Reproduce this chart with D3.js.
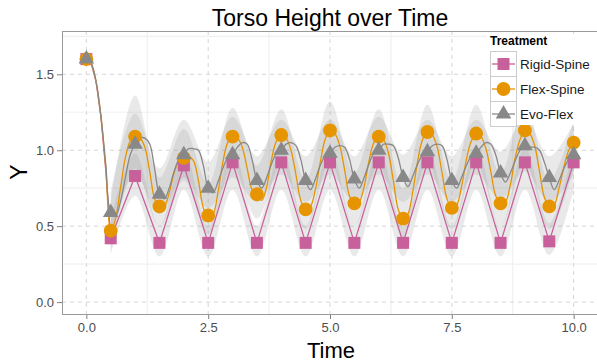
<!DOCTYPE html>
<html>
<head>
<meta charset="utf-8">
<script src="https://cdn.jsdelivr.net/npm/d3@7"></script>
<style>
  body { margin: 0; background: #fff; }
  svg { display: block; font-family: "Liberation Sans", Arial, sans-serif; }
</style>
</head>
<body>
<div id="chart"></div>
<script>
// treatments, in legend order
const treatments = ['Rigid-Spine', 'Flex-Spine', 'Evo-Flex'];

// sampled points (markers)
const pointTime = [0, 0.5, 1, 1.5, 2, 2.5, 3, 3.5, 4, 4.5, 5, 5.5, 6, 6.5, 7, 7.5, 8, 8.5, 9, 9.5, 10];
const rigidPoints = [1.60, 0.42, 0.83, 0.39, 0.90, 0.39, 0.92, 0.39, 0.92, 0.39, 0.92, 0.39, 0.92, 0.39, 0.92, 0.39, 0.92, 0.39, 0.92, 0.40, 0.92];
const flexPoints = [1.60, 0.47, 1.09, 0.63, 0.95, 0.57, 1.09, 0.71, 1.10, 0.61, 1.13, 0.65, 1.09, 0.55, 1.12, 0.62, 1.11, 0.65, 1.13, 0.63, 1.05];
const evoPoints = [1.60, 0.59, 1.04, 0.71, 0.97, 0.75, 0.97, 0.80, 1.00, 0.80, 0.98, 0.81, 1.00, 0.82, 0.99, 0.80, 0.98, 0.85, 1.03, 0.82, 0.97];

// rigid line: initial drop, then straight between samples
const rigidDropTime = [0, 0.1, 0.2, 0.3, 0.4];
const rigidDrop = [1.60, 1.57, 1.45, 1.22, 0.86];

// fine resolution lines for flex and evo
const lineTime = [
  0, 0.1, 0.2, 0.3, 0.4, 0.5, 0.6, 0.7, 0.8, 0.9,
  1, 1.1, 1.2, 1.3, 1.4, 1.5, 1.6, 1.7, 1.8, 1.9,
  2, 2.1, 2.2, 2.3, 2.4, 2.5, 2.6, 2.7, 2.8, 2.9,
  3, 3.1, 3.2, 3.3, 3.4, 3.5, 3.6, 3.7, 3.8, 3.9,
  4, 4.1, 4.2, 4.3, 4.4, 4.5, 4.6, 4.7, 4.8, 4.9,
  5, 5.1, 5.2, 5.3, 5.4, 5.5, 5.6, 5.7, 5.8, 5.9,
  6, 6.1, 6.2, 6.3, 6.4, 6.5, 6.6, 6.7, 6.8, 6.9,
  7, 7.1, 7.2, 7.3, 7.4, 7.5, 7.6, 7.7, 7.8, 7.9,
  8, 8.1, 8.2, 8.3, 8.4, 8.5, 8.6, 8.7, 8.8, 8.9,
  9, 9.1, 9.2, 9.3, 9.4, 9.5, 9.6, 9.7, 9.8, 9.9,
  10];
const flexLine = [
  1.60, 1.57, 1.45, 1.22, 0.88, 0.47, 0.55, 0.75, 0.95, 1.06,
  1.09, 1.08, 1.02, 0.86, 0.68, 0.62, 0.63, 0.72, 0.85, 0.93,
  0.95, 0.96, 0.93, 0.80, 0.62, 0.56, 0.58, 0.72, 0.92, 1.05,
  1.09, 1.08, 1.02, 0.88, 0.74, 0.70, 0.67, 0.76, 0.94, 1.06,
  1.10, 1.08, 1.00, 0.84, 0.67, 0.61, 0.63, 0.74, 0.92, 1.07,
  1.13, 1.11, 1.03, 0.87, 0.70, 0.65, 0.66, 0.76, 0.93, 1.05,
  1.09, 1.07, 0.98, 0.80, 0.61, 0.55, 0.58, 0.73, 0.93, 1.07,
  1.12, 1.10, 1.02, 0.85, 0.68, 0.62, 0.64, 0.76, 0.94, 1.06,
  1.11, 1.09, 1.01, 0.86, 0.70, 0.65, 0.66, 0.77, 0.95, 1.07,
  1.13, 1.11, 1.03, 0.86, 0.69, 0.63, 0.64, 0.75, 0.89, 1.00,
  1.05];
const evoLine = [
  1.60, 1.57, 1.45, 1.22, 0.90, 0.59, 0.57, 0.66, 0.82, 0.97,
  1.04, 1.08, 1.08, 1.04, 0.88, 0.71, 0.68, 0.75, 0.86, 0.94,
  0.97, 1.01, 1.01, 1.00, 0.90, 0.75, 0.72, 0.79, 0.88, 0.95,
  0.97, 1.02, 1.05, 1.04, 0.94, 0.80, 0.75, 0.82, 0.91, 0.98,
  1.00, 1.04, 1.05, 1.03, 0.94, 0.80, 0.74, 0.81, 0.90, 0.96,
  0.98, 1.02, 1.03, 1.02, 0.94, 0.81, 0.75, 0.82, 0.91, 0.98,
  1.00, 1.04, 1.04, 1.03, 0.95, 0.82, 0.76, 0.83, 0.91, 0.97,
  0.99, 1.03, 1.04, 1.03, 0.94, 0.80, 0.75, 0.82, 0.90, 0.96,
  0.98, 1.02, 1.05, 1.04, 0.97, 0.85, 0.79, 0.85, 0.93, 1.00,
  1.03, 1.02, 1.02, 1.00, 0.92, 0.82, 0.74, 0.80, 0.88, 0.94,
  0.97];

// spread ribbons (one per treatment)
const ribbonTime = [0.5, 1, 1.5, 2, 2.5, 3, 3.5, 4, 4.5, 5, 5.5, 6, 6.5, 7, 7.5, 8, 8.5, 9, 9.5, 10];
const rigidLo = [0.31, 0.70, 0.30, 0.74, 0.30, 0.74, 0.30, 0.74, 0.30, 0.74, 0.30, 0.74, 0.30, 0.74, 0.30, 0.74, 0.30, 0.74, 0.31, 0.74];
const rigidHi = [0.55, 0.98, 0.50, 1.00, 0.50, 1.02, 0.50, 1.02, 0.50, 1.02, 0.50, 1.02, 0.50, 1.02, 0.50, 1.02, 0.50, 1.02, 0.52, 1.02];
const flexLo = [0.33, 0.88, 0.50, 0.80, 0.45, 0.90, 0.55, 0.90, 0.48, 0.92, 0.50, 0.90, 0.42, 0.92, 0.48, 0.92, 0.50, 0.92, 0.48, 0.88];
const flexHi = [0.66, 1.36, 0.82, 1.14, 0.78, 1.28, 0.90, 1.27, 0.80, 1.32, 0.85, 1.27, 0.75, 1.30, 0.80, 1.30, 0.85, 1.32, 0.80, 1.20];
const evoLo = [0.45, 0.84, 0.58, 0.82, 0.62, 0.82, 0.66, 0.84, 0.66, 0.84, 0.66, 0.84, 0.66, 0.84, 0.66, 0.84, 0.68, 0.86, 0.66, 0.84];
const evoHi = [0.72, 1.24, 0.88, 1.20, 0.92, 1.22, 0.96, 1.20, 0.96, 1.20, 0.96, 1.22, 0.97, 1.20, 0.96, 1.20, 0.99, 1.22, 0.96, 1.18];

// axis ticks
const xTicks = [0, 2.5, 5, 7.5, 10];
const xMinor = [1.25, 3.75, 6.25, 8.75];
const yTicks = [0, 0.5, 1, 1.5];
const yMinor = [0.25, 0.75, 1.25, 1.75];

const colors = {'Rigid-Spine': '#C8609C', 'Flex-Spine': '#E69500', 'Evo-Flex': '#888888'};

// layout
const width = 597, height = 364;
const margin = {t: 31, r: -1, b: 49, l: 62};
const pw = width - margin.l - margin.r;
const ph = height - margin.t - margin.b;

const svg = d3.select('#chart').append('svg')
    .attr('width', width)
    .attr('height', height);

const x = d3.scaleLinear().domain([-0.5, 10.5]).range([margin.l, margin.l + pw]);
const y = d3.scaleLinear().domain([-0.085, 1.785]).range([margin.t + ph, margin.t]);

// grid
const grid = svg.append('g').attr('class', 'grid');
grid.selectAll('.vminor').data(xMinor).join('line')
    .attr('x1', d => x(d)).attr('x2', d => x(d))
    .attr('y1', margin.t).attr('y2', margin.t + ph)
    .attr('stroke', '#f0f0f0').attr('stroke-width', 1.2);
grid.selectAll('.hminor').data(yMinor).join('line')
    .attr('y1', d => y(d)).attr('y2', d => y(d))
    .attr('x1', margin.l).attr('x2', margin.l + pw)
    .attr('stroke', '#f0f0f0').attr('stroke-width', 1.2);
grid.selectAll('.vmajor').data(xTicks).join('line')
    .attr('x1', d => x(d)).attr('x2', d => x(d))
    .attr('y1', margin.t).attr('y2', margin.t + ph)
    .attr('stroke', '#d6d6d6').attr('stroke-dasharray', '4,4');
grid.selectAll('.hmajor').data(yTicks).join('line')
    .attr('y1', d => y(d)).attr('y2', d => y(d))
    .attr('x1', margin.l).attr('x2', margin.l + pw)
    .attr('stroke', '#d6d6d6').attr('stroke-dasharray', '4,4');

// ribbons
const ribbons = [
    {lo: rigidLo, hi: rigidHi},
    {lo: flexLo, hi: flexHi},
    {lo: evoLo, hi: evoHi}
];
const area = d3.area()
    .x((d, i) => x(ribbonTime[i]))
    .y0(d => y(d[0]))
    .y1(d => y(d[1]))
    .curve(d3.curveCatmullRom);
svg.append('g').selectAll('path').data(ribbons).join('path')
    .attr('d', r => area(r.lo.map((v, i) => [v, r.hi[i]])))
    .attr('fill', '#999')
    .attr('fill-opacity', 0.22);

// lines
const rigidLineData = rigidDropTime.map((t, i) => [t, rigidDrop[i]])
    .concat(pointTime.slice(1).map((t, i) => [t, rigidPoints[i + 1]]));
const series = [
    {name: 'Rigid-Spine', line: rigidLineData, curve: d3.curveLinear},
    {name: 'Flex-Spine', line: lineTime.map((t, i) => [t, flexLine[i]]), curve: d3.curveCatmullRom},
    {name: 'Evo-Flex', line: lineTime.map((t, i) => [t, evoLine[i]]), curve: d3.curveCatmullRom}
];
const lineGen = d3.line().x(d => x(d[0])).y(d => y(d[1]));
svg.append('g').selectAll('path').data(series).join('path')
    .attr('d', s => lineGen.curve(s.curve)(s.line))
    .attr('fill', 'none')
    .attr('stroke', s => colors[s.name])
    .attr('stroke-width', 1.3);

// markers
const sym = {
    'Rigid-Spine': d3.symbol().type(d3.symbolSquare).size(144),
    'Flex-Spine': d3.symbol().type(d3.symbolCircle).size(150),
    'Evo-Flex': d3.symbol().type(d3.symbolTriangle).size(105)
};
const pointSets = [
    {name: 'Rigid-Spine', vals: rigidPoints},
    {name: 'Flex-Spine', vals: flexPoints},
    {name: 'Evo-Flex', vals: evoPoints}
];
pointSets.forEach(s => {
    svg.append('g').selectAll('path').data(s.vals).join('path')
        .attr('transform', (d, i) => `translate(${x(pointTime[i])},${y(d)})`)
        .attr('d', sym[s.name]())
        .attr('fill', colors[s.name]);
});

// panel border
svg.append('rect')
    .attr('x', margin.l + 0.5).attr('y', margin.t + 0.5)
    .attr('width', pw).attr('height', ph - 1)
    .attr('fill', 'none')
    .attr('stroke', '#999');

// axes
const axisX = svg.append('g')
    .attr('transform', `translate(0,${margin.t + ph})`)
    .call(d3.axisBottom(x).tickValues(xTicks).tickFormat(d3.format('.1f')).tickSize(4).tickPadding(4));
const axisY = svg.append('g')
    .attr('transform', `translate(${margin.l},0)`)
    .call(d3.axisLeft(y).tickValues(yTicks).tickFormat(d3.format('.1f')).tickSize(5).tickPadding(3));
[axisX, axisY].forEach(a => {
    a.select('.domain').remove();
    a.selectAll('line').attr('stroke', '#7f7f7f');
    a.selectAll('text')
        .attr('fill', '#4d4d4d')
        .style('font-size', '13px')
        .style('font-family', '"Liberation Sans", Arial, sans-serif');
});

// titles
svg.append('text')
    .attr('x', 330).attr('y', 26)
    .attr('text-anchor', 'middle')
    .style('font-size', '23px')
    .text('Torso Height over Time');
svg.append('text')
    .attr('x', 331).attr('y', 358)
    .attr('text-anchor', 'middle')
    .style('font-size', '22px')
    .text('Time');
svg.append('text')
    .attr('transform', 'translate(27,172) rotate(-90)')
    .attr('text-anchor', 'middle')
    .style('font-size', '23px')
    .text('Y');

// legend
const legend = svg.append('g').attr('transform', 'translate(489,34)');
legend.append('rect')
    .attr('x', -2).attr('y', 0)
    .attr('width', 110).attr('height', 91)
    .attr('fill', '#fff');
legend.append('text')
    .attr('x', 1).attr('y', 11)
    .style('font-size', '12px')
    .style('font-weight', 'bold')
    .text('Treatment');
const keyH = 25;
const keys = legend.selectAll('.key').data(treatments).join('g')
    .attr('class', 'key')
    .attr('transform', (d, i) => `translate(1,${17 + i * keyH})`);
keys.append('rect')
    .attr('x', 0.5).attr('y', 0.5)
    .attr('width', 26).attr('height', keyH)
    .attr('fill', '#fff')
    .attr('stroke', '#cccccc');
keys.append('line')
    .attr('x1', 2).attr('x2', 25)
    .attr('y1', keyH / 2 + 0.5).attr('y2', keyH / 2 + 0.5)
    .attr('stroke', d => colors[d])
    .attr('stroke-width', 1.3);
keys.append('path')
    .attr('transform', `translate(13.5,${keyH / 2 + 0.5})`)
    .attr('d', d => sym[d]())
    .attr('fill', d => colors[d]);
keys.append('text')
    .attr('x', 30).attr('y', keyH / 2 + 5.5)
    .style('font-size', '13.5px')
    .attr('fill', '#1a1a1a')
    .text(d => d);
</script>
</body>
</html>
